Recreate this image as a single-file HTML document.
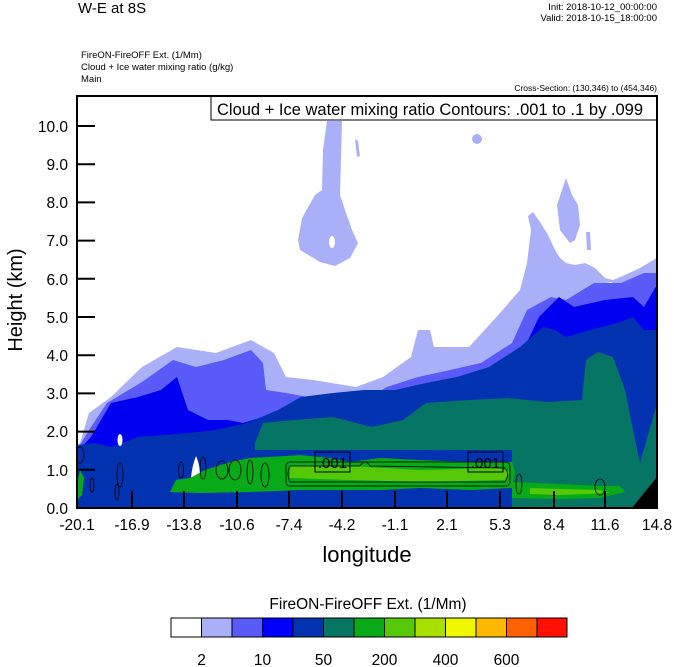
<!DOCTYPE html>
<html><head><meta charset="utf-8"><style>
body{margin:0;background:#fff;}
svg{display:block;font-family:"Liberation Sans",sans-serif;}
</style></head><body>
<svg width="674" height="667" viewBox="0 0 674 667" xmlns="http://www.w3.org/2000/svg">
<rect width="674" height="667" fill="#fff"/>
<text x="78" y="13" font-size="15">W-E at 8S</text>
<text x="657" y="10" font-size="9.5" text-anchor="end">Init: 2018-10-12_00:00:00</text>
<text x="657" y="21" font-size="9.5" text-anchor="end">Valid: 2018-10-15_18:00:00</text>
<text x="81" y="58" font-size="9.5">FireON-FireOFF Ext.   (1/Mm)</text>
<text x="81" y="70" font-size="9.5">Cloud + Ice water mixing ratio   (g/kg)</text>
<text x="81" y="82" font-size="9.5">Main</text>
<text x="657" y="91" font-size="8.5" text-anchor="end">Cross-Section: (130,346) to (454,346)</text>

<defs><clipPath id="c"><rect x="77" y="96" width="580" height="412"/></clipPath></defs>
<g clip-path="url(#c)">
<!-- lavender -->
<polygon fill="#aab0f8" points="77,508 77,445 80,443 89,413 111,397 142,367 177,347 216,353 251,340 274,353 286,377 313,380 356,387 383,377 411,357 418,330 430,330 434,347 469,347 500,313 520,290 527,263 531,230 528,216 533,212 540,222 548,235 555,250 560,258 566,263 575,265 585,263 595,268 605,278 613,280 625,275 640,268 650,262 657,258 657,508"/>
<polygon fill="#aab0f8" points="327,121 342,121 340,195 345,210 352,230 358,243 350,258 335,266 320,262 300,250 298,240 302,218 315,195 322,190 323,150"/>
<ellipse cx="332" cy="242" rx="3" ry="6" fill="#fff"/>
<polygon fill="#aab0f8" points="566,178 572,195 578,205 580,225 575,240 570,243 560,230 557,205 562,190"/>
<polygon fill="#aab0f8" points="355,139 358,141 360,156 357,157"/>
<circle cx="477" cy="139" r="5" fill="#aab0f8"/>
<polygon fill="#aab0f8" points="586,232 590,232 591,250 587,250"/>
<polygon fill="#fff" points="600,284 612,282 614,296 600,296"/>
<!-- medium -->
<polygon fill="#5a5af8" points="77,508 77,450 89,430 107,403 142,382 173,360 196,367 224,360 251,350 263,363 266,390 286,393 313,398 344,402 368,398 387,387 418,377 450,370 481,363 512,343 527,310 551,297 566,300 594,283 621,283 644,273 658,273 658,508"/>
<!-- blue -->
<polygon fill="#0000f0" points="77,508 77,452 91,437 111,403 138,397 161,390 177,377 188,410 208,420 228,420 243,423 263,417 294,403 325,402 352,407 383,397 418,385 450,380 489,370 520,357 539,317 559,297 574,307 605,300 633,297 644,307 658,283 658,508"/>
<!-- dark blue -->
<polygon fill="#0333b0" points="77,508 77,445 95,443 111,447 138,437 188,433 216,430 247,423 278,410 301,397 333,393 364,390 395,390 426,383 457,377 489,367 520,347 543,327 555,330 566,337 590,330 617,323 633,317 644,330 658,330 658,508"/>
<!-- teal -->
<polygon fill="#077563" points="255,450 255,443 263,423 294,420 333,417 372,427 403,420 426,403 469,400 508,398 547,402 582,400 586,360 598,352 613,357 625,390 633,430 640,463 658,400 658,508 512,508 512,450"/>
<!-- white patches -->
<ellipse cx="120" cy="440" rx="2.5" ry="6" fill="#fff"/>
<path d="M196,456 Q202,470 200,486 Q192,488 191,478 Q192,466 196,456Z" fill="#fff"/>
<!-- green -->
<polygon fill="#08aa18" points="170,492 176,480 190,478 205,470 230,462 250,458 286,456 300,455 330,458 350,462 380,458 420,460 470,462 512,462 515,472 512,488 470,490 420,488 380,490 330,490 300,490 250,492 200,493"/>
<polygon fill="#08aa18" points="512,482 560,484 600,486 620,486 625,492 600,498 560,499 512,498"/>
<polygon fill="#55c808" points="290,466 350,466 420,470 500,468 510,472 505,480 420,482 350,480 290,478"/>
<polygon fill="#55c808" points="530,488 560,489 600,490 610,493 560,495 530,494"/>
<polygon fill="#08aa18" points="77,485 80,470 84,478 82,495 77,500"/>
<!-- black corner -->
<polygon fill="#000" points="632,508 657,477 657,508"/>
<!-- contours -->
<g fill="none" stroke="#000" stroke-width="0.8">
<rect x="286" y="462" width="224" height="24" rx="4"/>
<path d="M290,466 L360,466 Q365,458 370,466 L505,468 Q510,474 505,482 L290,482 Q286,474 290,466Z"/>
<ellipse cx="265" cy="475" rx="4" ry="12"/>
<ellipse cx="250" cy="472" rx="3" ry="12"/>
<ellipse cx="235" cy="470" rx="6" ry="10"/>
<ellipse cx="222" cy="470" rx="6" ry="9"/>
<ellipse cx="203" cy="468" rx="3" ry="11"/>
<ellipse cx="181" cy="470" rx="2.5" ry="8"/>
<ellipse cx="120" cy="475" rx="3" ry="12"/>
<ellipse cx="117" cy="492" rx="2" ry="8"/>
<ellipse cx="92" cy="485" rx="2" ry="7"/>
<ellipse cx="80" cy="455" rx="4" ry="8"/>
<ellipse cx="519" cy="484" rx="3" ry="10"/>
<ellipse cx="600" cy="487" rx="5" ry="8"/>
</g>
<rect x="315" y="452" width="35" height="20" fill="none" stroke="#000" stroke-width="1"/>
<text x="332.5" y="468" font-size="15" text-anchor="middle">.001</text>
<rect x="468" y="452" width="35" height="20" fill="none" stroke="#000" stroke-width="1"/>
<text x="485.5" y="468" font-size="15" text-anchor="middle">.001</text>
</g>
<!-- title box -->
<rect x="211" y="96" width="446" height="24" fill="#fff" stroke="#000" stroke-width="1"/>
<text x="217" y="115" font-size="16.5">Cloud + Ice water mixing ratio Contours: .001 to .1 by .099</text>
<!-- frame -->
<rect x="77" y="96" width="580" height="412" fill="none" stroke="#000" stroke-width="2"/>
<g stroke="#000" stroke-width="2">
<line x1="77" y1="508" x2="95" y2="508"/><line x1="77" y1="469.8" x2="95" y2="469.8"/><line x1="77" y1="431.6" x2="95" y2="431.6"/><line x1="77" y1="393.4" x2="95" y2="393.4"/><line x1="77" y1="355.2" x2="95" y2="355.2"/><line x1="77" y1="317" x2="95" y2="317"/><line x1="77" y1="278.8" x2="95" y2="278.8"/><line x1="77" y1="240.6" x2="95" y2="240.6"/><line x1="77" y1="202.4" x2="95" y2="202.4"/><line x1="77" y1="164.2" x2="95" y2="164.2"/><line x1="77" y1="126" x2="95" y2="126"/>
<line x1="132" y1="508" x2="132" y2="491"/><line x1="184" y1="508" x2="184" y2="491"/><line x1="237" y1="508" x2="237" y2="491"/><line x1="289" y1="508" x2="289" y2="491"/><line x1="342" y1="508" x2="342" y2="491"/><line x1="395" y1="508" x2="395" y2="491"/><line x1="447" y1="508" x2="447" y2="491"/><line x1="500" y1="508" x2="500" y2="491"/><line x1="554" y1="508" x2="554" y2="491"/><line x1="605" y1="508" x2="605" y2="491"/>
</g>
<g font-size="15.5" text-anchor="end">
<text x="68" y="514">0.0</text><text x="68" y="476">1.0</text><text x="68" y="437">2.0</text><text x="68" y="399">3.0</text><text x="68" y="361">4.0</text><text x="68" y="323">5.0</text><text x="68" y="285">6.0</text><text x="68" y="246">7.0</text><text x="68" y="208">8.0</text><text x="68" y="170">9.0</text><text x="68" y="132">10.0</text>
</g>
<g font-size="15.5" text-anchor="middle">
<text x="77" y="530">-20.1</text><text x="132" y="530">-16.9</text><text x="184" y="530">-13.8</text><text x="237" y="530">-10.6</text><text x="289" y="530">-7.4</text><text x="342" y="530">-4.2</text><text x="395" y="530">-1.1</text><text x="447" y="530">2.1</text><text x="500" y="530">5.3</text><text x="554" y="530">8.4</text><text x="605" y="530">11.6</text><text x="657" y="530">14.8</text>
</g>
<text x="367" y="562" font-size="22" text-anchor="middle">longitude</text>
<text transform="translate(22,300) rotate(-90)" font-size="20" text-anchor="middle">Height (km)</text>
<!-- colorbar -->
<text x="368" y="609" font-size="15.5" text-anchor="middle">FireON-FireOFF Ext.  (1/Mm)</text>
<g stroke="#000" stroke-width="1">
<rect x="171" y="618" width="30.5" height="19" fill="#ffffff"/>
<rect x="201.5" y="618" width="30.5" height="19" fill="#aab0f8"/>
<rect x="232" y="618" width="30.5" height="19" fill="#5a5af8"/>
<rect x="262.5" y="618" width="30.5" height="19" fill="#0000f8"/>
<rect x="293" y="618" width="30.5" height="19" fill="#0333b0"/>
<rect x="323.5" y="618" width="30.5" height="19" fill="#077563"/>
<rect x="354" y="618" width="30.5" height="19" fill="#08aa18"/>
<rect x="384.5" y="618" width="30.5" height="19" fill="#55c808"/>
<rect x="415" y="618" width="30.5" height="19" fill="#a8e000"/>
<rect x="445.5" y="618" width="30.5" height="19" fill="#f0f800"/>
<rect x="476" y="618" width="30.5" height="19" fill="#ffb800"/>
<rect x="506.5" y="618" width="30.5" height="19" fill="#ff6000"/>
<rect x="537" y="618" width="30" height="19" fill="#ff1000"/>
</g>
<g font-size="15.5" text-anchor="middle">
<text x="201.5" y="665">2</text><text x="262.5" y="665">10</text><text x="323.5" y="665">50</text><text x="384.5" y="665">200</text><text x="445.5" y="665">400</text><text x="506.5" y="665">600</text>
</g>
</svg>
</body></html>
